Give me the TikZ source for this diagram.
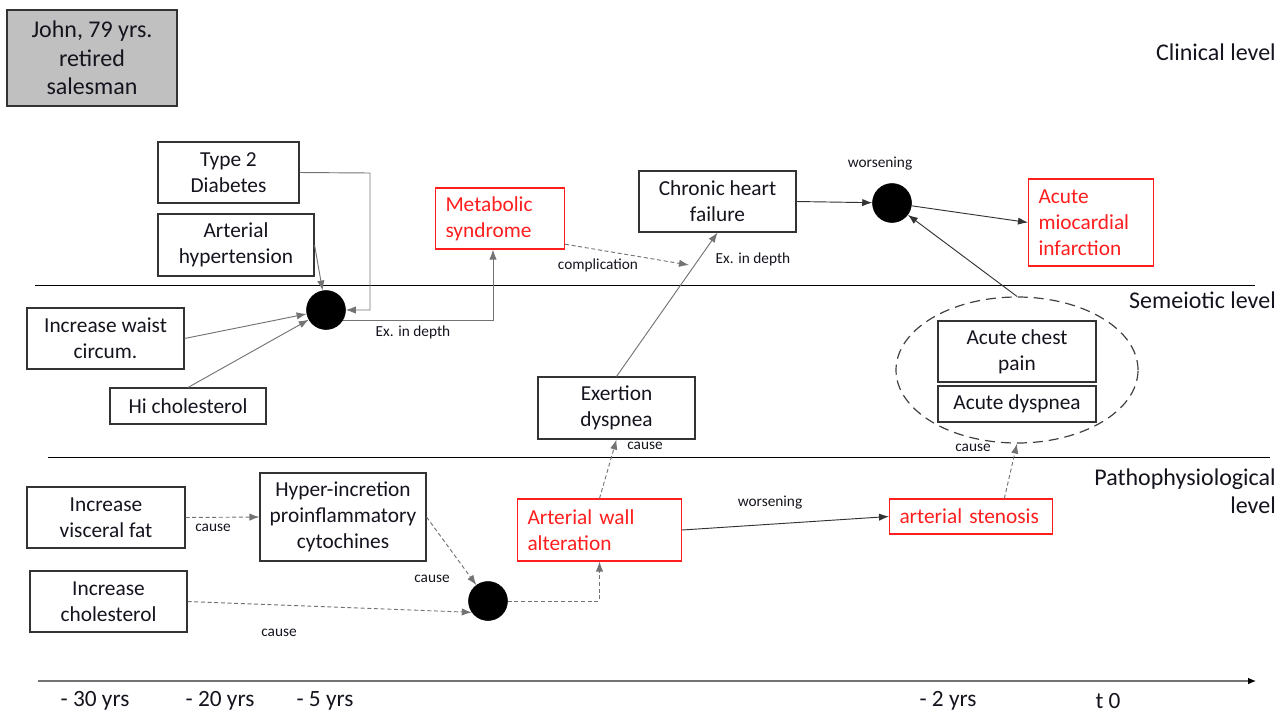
\documentclass[tikz,border=0pt]{standalone}
\usepackage{fontspec}
\setmainfont{Carlito}
\usetikzlibrary{arrows.meta,shapes.geometric}
\definecolor{txt}{RGB}{20,20,30}
\definecolor{myred}{RGB}{255,30,30}
\definecolor{johngray}{RGB}{192,192,192}
\begin{document}
\begin{tikzpicture}[x=0.75pt,y=-0.75pt,
  box/.style={draw=black!80,line width=0.8pt,fill=white,align=center,text=txt,
    font=\fontsize{16}{19.5}\selectfont,inner sep=1pt},
  redbox/.style={draw=myred,line width=0.8pt,fill=white,align=left,text=myred,
    font=\fontsize{16}{19.5}\selectfont,inner xsep=7.5pt,inner ysep=1pt},
  bw/.style={minimum width=#1*0.75pt},
  bh/.style={minimum height=#1*0.75pt},
  tw/.style={text width=#1*0.75pt},
  dot/.style={circle,fill=black,draw=black,minimum size=39*0.75pt,inner sep=0pt},
  lbl/.style={font=\fontsize{11.5}{13}\selectfont,text=txt,inner sep=1pt},
  lvl/.style={font=\fontsize{18}{21}\selectfont,text=txt,inner sep=0pt,align=right},
  tl/.style={font=\fontsize{17.5}{19}\selectfont,text=txt,inner sep=0pt},
  conn/.style={draw=black!55,line width=0.7pt,-{Latex[length=7.5pt,width=5.5pt]}},
  dconn/.style={conn,dash pattern=on 3pt off 2pt},
  dkconn/.style={conn,draw=black!80},
]
\useasboundingbox (0,0) rectangle (1288,715);

% level lines
\draw[black,line width=0.7pt] (35,285) -- (1255,285);
\draw[black,line width=0.7pt] (48,457) -- (1270,457);

% level labels
\node[lvl,anchor=east] (clin) at (1276,52) {Clinical level};
\node[lvl,anchor=east] (semi) at (1276,300) {Semeiotic level};
\node[lvl,anchor=east] (patho) at (1276,491) {Pathophysiological\\level};

% patient
\node[box,fill=johngray,bw=170,bh=96,font=\fontsize{18}{21.4}\selectfont] (john) at (92,58) {John, 79 yrs.\\retired\\salesman};

% clinical / semiotic nodes
\node[box,bw=141,bh=61] (t2) at (228.5,172.5) {Type 2\\Diabetes};
\node[box,bw=156,bh=62] (hyp) at (236,245) {Arterial\\hypertension};
\node[box,bw=157,bh=61] (waist) at (105.5,338.5) {Increase waist\\circum.};
\node[box,bw=156,bh=36] (hich) at (188,406) {Hi cholesterol};
\node[dot] (dot1) at (326,310) {};
\node[redbox,bw=124,bh=61,tw=109] (meta) at (500,218.5) {Metabolic\\syndrome};
\node[box,bw=157,bh=61] (chf) at (717.5,201.5) {Chronic heart\\failure};
\node[dot] (dot2) at (892,203) {};
\node[redbox,bw=120,bh=87,tw=105] (ami) at (1091,222.5) {Acute\\miocardial\\infarction};

\node[draw=black!75,line width=0.9pt,dash pattern=on 7.5pt off 4.5pt,ellipse,
  minimum width=242*0.75pt,minimum height=146*0.75pt] (ell) at (1017,370) {};
\node[box,bw=158,bh=61] (acp) at (1017,351.5) {Acute chest\\pain};
\node[box,bw=158,bh=36] (acd) at (1017,404) {Acute dyspnea};
\node[box,bw=157,bh=62] (exd) at (616.5,408) {Exertion\\dyspnea};

% pathophysiological nodes
\node[box,bw=158,bh=61] (vf) at (106,517.5) {Increase\\visceral fat};
\node[box,bw=166,bh=88] (hic) at (343,517) {Hyper-incretion\\proinflammatory\\cytochines};
\node[box,bw=157,bh=61] (ic) at (108.5,601.5) {Increase\\cholesterol};
\node[dot] (dot3) at (488,601) {};
\node[redbox,bw=159,bh=62,tw=144] (awa) at (599.5,530) {Arterial wall\\alteration};
\node[redbox,bw=158,bh=35,tw=143] (sten) at (971,516.5) {arterial stenosis};

% connectors - top
\coordinate (k1) at (370,173);
\draw[conn] (t2.east) -- (k1) |- (dot1.east);
\draw[conn] (hyp.east) -- (dot1);
\draw[conn] (waist.east) -- (dot1);
\draw[conn] (hich.north) -- (dot1);
\draw[conn] (dot1.-32) -| ([xshift=-5.25pt]meta.south);
\node[lbl] (l1) at (413,332) {Ex. in depth};
\coordinate (cend) at (689,265);
\draw[dconn] ([yshift=4pt]meta.south east) -- (cend);
\node[lbl] (l2) at (598,265) {complication};
\draw[conn] (exd.north) -- (chf.south);
\node[lbl] (l3) at (753,259) {Ex. in depth};
\draw[dkconn] (chf.east) -- (dot2);
\node[lbl] (l4) at (880,164) {worsening};
\draw[dkconn] (dot2) -- (ami.west);
\draw[dkconn] (ell.north) -- (dot2);

% connectors - bottom
\draw[dconn] (awa.north) -- (exd.south);
\node[lbl] (l5) at (645,446) {cause};
\draw[dconn] ([xshift=25pt]sten.north) -- (ell.south);
\node[lbl] (l6) at (973,448) {cause};
\draw[dconn] (vf.east) -- (hic.west);
\node[lbl] (l7) at (213,528) {cause};
\draw[dconn] (hic.east) -- (dot3);
\node[lbl] (l8) at (432,579) {cause};
\draw[dconn] (ic.east) -- (dot3.215);
\node[lbl] (l9) at (279,633) {cause};
\draw[dconn] (dot3.east) -| (awa.south);
\draw[dkconn] (awa.east) -- (sten.west);
\node[lbl] (l10) at (770,503) {worsening};

% timeline
\coordinate (t0) at (38,681);
\coordinate (t1) at (1256,681);
\draw[draw=black!55,line width=0.8pt,-{Latex[length=6pt,width=5pt,color=black]}] (t0) -- (t1);
\node[tl] (y30) at (95,701) {- 30 yrs};
\node[tl] (y20) at (220,701) {- 20 yrs};
\node[tl] (y5) at (325,701) {- 5 yrs};
\node[tl] (y2) at (948,701) {- 2 yrs};
\node[tl] (yt) at (1108,701) {t 0};
\end{tikzpicture}
\end{document}
